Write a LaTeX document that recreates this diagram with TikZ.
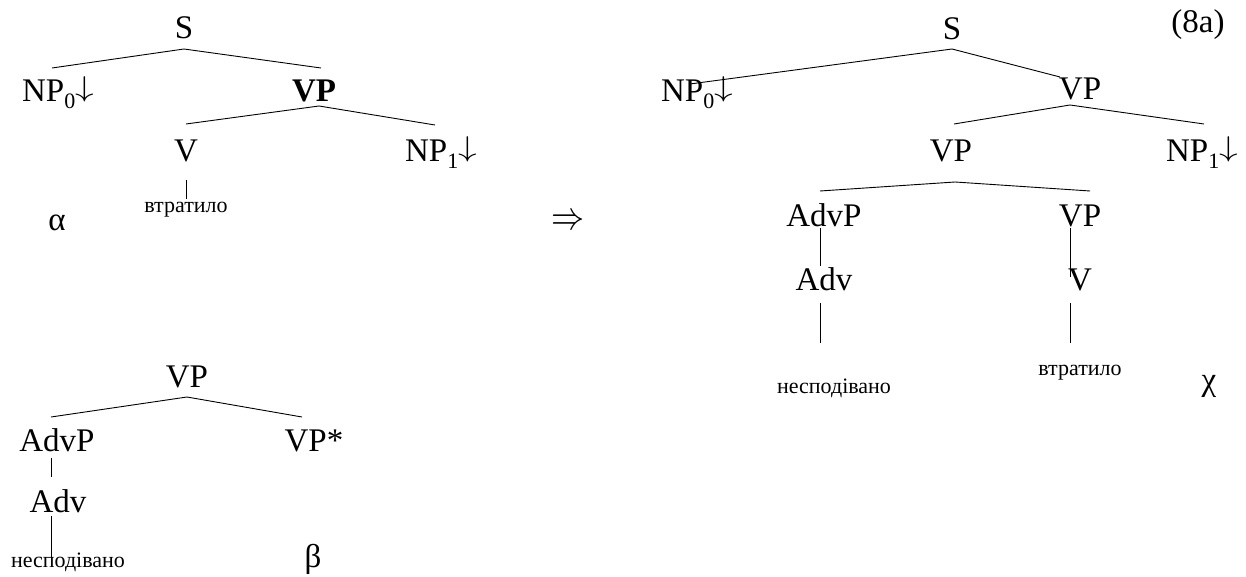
\documentclass[tikz,border=0pt]{standalone}
\usepackage{graphicx}
\usepackage{fontspec}
\setmainfont{Liberation Serif}
\newfontfamily\treefont{Liberation Serif}
\newcommand{\foot}{\raisebox{0.18em}{\fontsize{24.88}{30}\selectfont\scalebox{1.5}[1.15]{$\downarrow$}}}
\newcommand{\idx}[1]{\raisebox{-0.19em}{\fontsize{22}{22}\selectfont #1}}

\begin{document}
\begin{tikzpicture}[
    x=1pt, y=-1pt,
    cat/.style={inner sep=0pt, anchor=base, font=\treefont\fontsize{33}{38}\selectfont},
    word/.style={inner sep=0pt, anchor=base, font=\treefont\fontsize{22}{26}\selectfont},
    branch/.style={line width=0.9pt}
]
\useasboundingbox (0,0) rectangle (1246,577);

% Elementary tree alpha
\node[cat] (s1) at (184,39) {S};
\node[cat] (np01) at (58,102) {NP\idx{0}\foot};
\node[cat, font=\treefont\fontsize{33}{38}\selectfont\bfseries] (vp1) at (314,102) {VP};
\node[cat] (v1) at (186,162) {V};
\node[cat] (np11) at (441,162) {NP\idx{1}\foot};
\node[word] (w1) at (186,213) {втратило};
\node[cat] (alpha) at (57,230) {α};

\draw[branch] ([yshift=-10pt]s1.base) -- ([xshift=-6pt,yshift=34pt]np01.base);
\draw[branch] ([yshift=-10pt]s1.base) -- ([xshift=7pt,yshift=34pt]vp1.base);
\draw[branch] ([xshift=5pt,yshift=-4pt]vp1.base) -- ([yshift=38pt]v1.base);
\draw[branch] ([xshift=5pt,yshift=-4pt]vp1.base) -- ([xshift=-6pt,yshift=37pt]np11.base);
\draw[branch] ([yshift=-18pt]v1.base) -- ([yshift=14pt]w1.base);

% Auxiliary tree beta
\node[cat] (vp5) at (187,387) {VP};
\node[cat] (advp3) at (57,451) {AdvP};
\node[cat] (vpstar) at (314,451) {VP*};
\node[cat] (adv3) at (58,512) {Adv};
\node[word] (w4) at (68,567) {несподівано};
\node[cat] (beta) at (313,567) {β};

\draw[branch] ([yshift=-10pt]vp5.base) -- ([xshift=-6pt,yshift=34pt]advp3.base);
\draw[branch] ([yshift=-10pt]vp5.base) -- ([xshift=-12pt,yshift=34pt]vpstar.base);
\draw[branch] ([xshift=-6pt,yshift=-7pt]advp3.base) -- ([xshift=-7pt,yshift=35pt]adv3.base);
\draw[branch] ([xshift=-7pt,yshift=-4pt]adv3.base) -- ([xshift=-17pt]w4.base);

% Adjunction
\node[inner sep=0pt, xscale=1.33, yscale=1.6, font=\fontsize{24.88}{30}\selectfont] (arr) at (568,222) {$\Rightarrow$};

% Derived tree chi
\node[cat] (lbl) at (1198,33) {(8a)};
\node[cat] (s2) at (952,40) {S};
\node[cat] (np02) at (697,102) {NP\idx{0}\foot};
\node[cat] (vp2) at (1080,100) {VP};
\node[cat] (vp3) at (951,162) {VP};
\node[cat] (np12) at (1202,162) {NP\idx{1}\foot};
\node[cat] (advp2) at (824,227) {AdvP};
\node[cat] (vp4) at (1080,227) {VP};
\node[cat] (adv2) at (824,290) {Adv};
\node[cat] (v2) at (1080,290) {V};
\node[word] (w2) at (834,393) {несподівано};
\node[word] (w3) at (1080,375) {втратило};
\node[cat] (chi) at (1209,390) {χ};

\draw[branch] ([yshift=-9pt]s2.base) -- ([xshift=-7pt,yshift=18pt]np02.base);
\draw[branch] ([yshift=-9pt]s2.base) -- ([xshift=-20pt,yshift=23pt]vp2.base);
\draw[branch] ([xshift=-10pt,yshift=-5pt]vp2.base) -- ([xshift=3pt,yshift=38pt]vp3.base);
\draw[branch] ([xshift=-10pt,yshift=-5pt]vp2.base) -- ([xshift=2pt,yshift=38pt]np12.base);
\draw[branch] ([xshift=4pt,yshift=-20pt]vp3.base) -- ([xshift=-4pt,yshift=36pt]advp2.base);
\draw[branch] ([xshift=4pt,yshift=-20pt]vp3.base) -- ([xshift=10pt,yshift=36pt]vp4.base);
\draw[branch] ([xshift=-4pt,yshift=-1pt]advp2.base) -- ([xshift=-4pt,yshift=24pt]adv2.base);
\draw[branch] ([xshift=-10pt,yshift=-1pt]vp4.base) -- ([xshift=-10pt,yshift=13pt]v2.base);
\draw[branch] ([xshift=-4pt,yshift=-13pt]adv2.base) -- ([xshift=-14pt,yshift=50pt]w2.base);
\draw[branch] ([xshift=-10pt,yshift=-13pt]v2.base) -- ([xshift=-10pt,yshift=32pt]w3.base);

\end{tikzpicture}
\end{document}
